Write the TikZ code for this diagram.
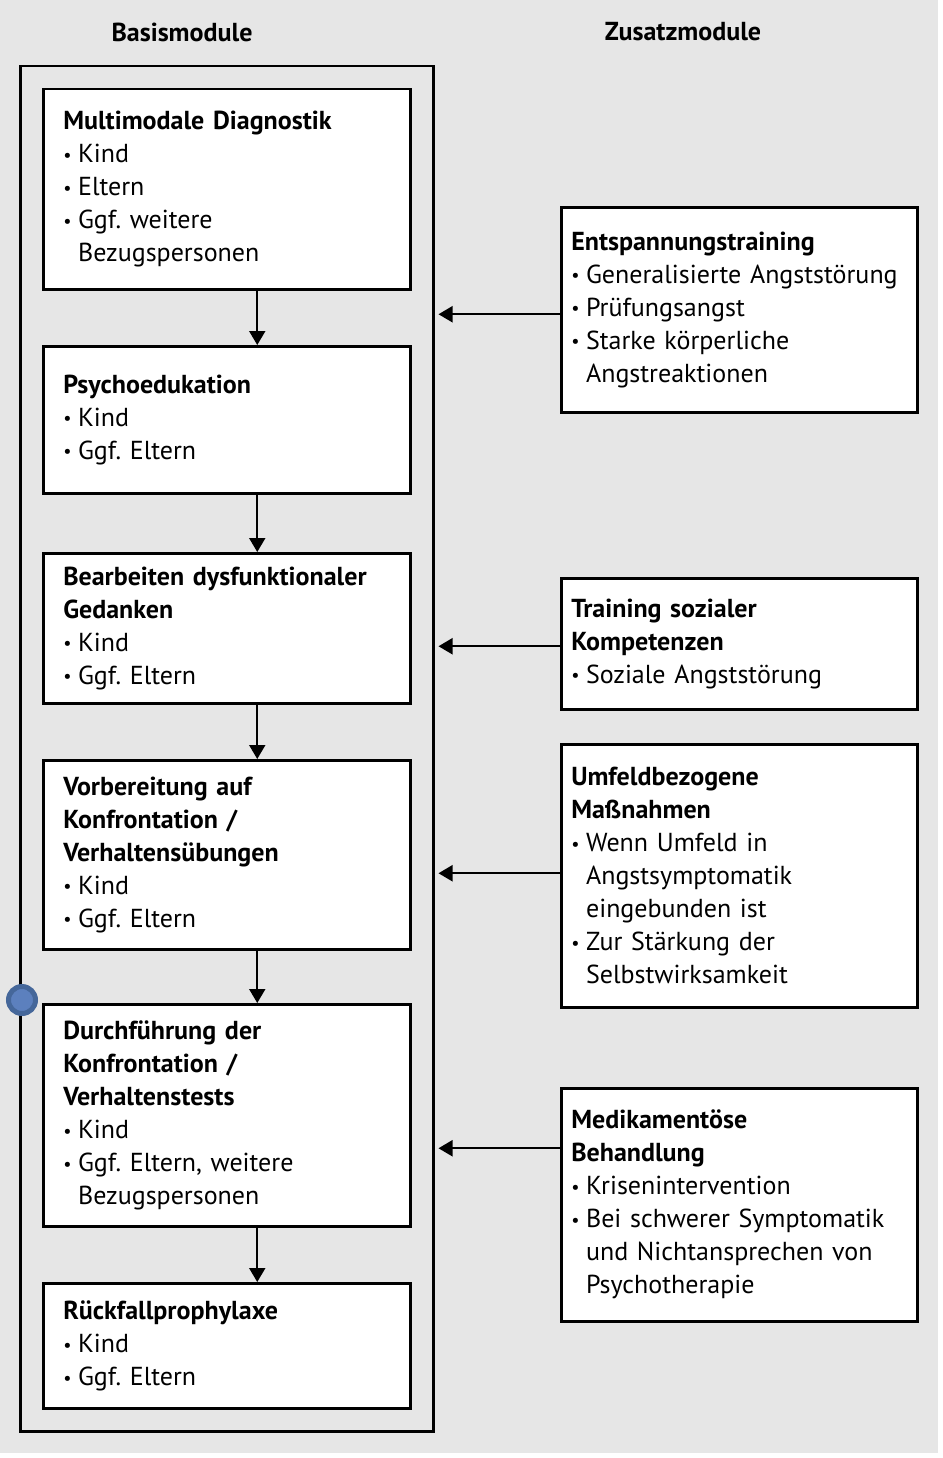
\documentclass[tikz,border=0pt]{standalone}
\usepackage{fontspec}
\setmainfont{PT Sans}
\usetikzlibrary{arrows.meta,positioning}
\definecolor{PanelGray}{RGB}{230,230,230}
\definecolor{DotBlue}{RGB}{92,128,190}
\definecolor{DotRing}{RGB}{69,103,154}
\newcommand{\ttl}[1]{\mbox{\bfseries #1}}
\newcommand{\itm}[1]{\mbox{\makebox[0.57em][l]{\raisebox{0.05em}{\scalebox{0.7}{\textbullet}}}#1}}
\newcommand{\cnt}[1]{\mbox{\hspace*{0.57em}#1}}
\frenchspacing

\begin{document}
\begin{tikzpicture}[x=1pt, y=-1pt,
    basis/.style={draw, fill=white, line width=2.5pt, anchor=north west, align=left, text width=327pt, inner xsep=20pt, minimum width=367pt, font=\fontsize{26}{33}\selectfont},
    zusatz/.style={draw, fill=white, line width=2.5pt, anchor=north west, align=left, text width=336pt, inner xsep=10pt, minimum width=356pt, font=\fontsize{26}{33}\selectfont},
    head/.style={font=\fontsize{26}{33}\selectfont\bfseries},
    arrow/.style={-{Triangle[width=16pt,length=14pt]}, line width=2pt}
  ]
    \fill[white] (0,0) rectangle (942,1458);
    \fill[PanelGray] (0,0) rectangle (938,1453);

    \node[head] (bhead) at (182,32) {Basismodule};
    \node[head] (zhead) at (683,32) {Zusatzmodule};
    \node[draw, line width=2.5pt, anchor=north west, minimum width=413pt, minimum height=1365pt, inner sep=0pt] (frame) at (19,65) {};

    \node[basis, minimum height=200pt] (diag) at (42,88) {\ttl{Multimodale Diagnostik}\\ \itm{Kind}\\ \itm{Eltern}\\ \itm{Ggf. weitere}\\ \cnt{Bezugspersonen}};
    \node[basis, minimum height=147pt] (psych) at (42,345) {\ttl{Psychoedukation}\\ \itm{Kind}\\ \itm{Ggf. Eltern}};
    \node[basis, minimum height=150pt] (gedanken) at (42,552) {\ttl{Bearbeiten dysfunktionaler}\\ \ttl{Gedanken}\\ \itm{Kind}\\ \itm{Ggf. Eltern}};
    \node[basis, minimum height=189pt] (vorb) at (42,759) {\ttl{Vorbereitung auf}\\ \ttl{Konfrontation /}\\ \ttl{Verhaltensübungen}\\ \itm{Kind}\\ \itm{Ggf. Eltern}};
    \node[basis, minimum height=222pt] (durch) at (42,1003) {\ttl{Durchführung der}\\ \ttl{Konfrontation /}\\ \ttl{Verhaltenstests}\\ \itm{Kind}\\ \itm{Ggf. Eltern, weitere}\\ \cnt{Bezugspersonen}};
    \node[basis, minimum height=125pt] (rueck) at (42,1282) {\ttl{Rückfallprophylaxe}\\ \itm{Kind}\\ \itm{Ggf. Eltern}};

    \node[zusatz, minimum height=205pt] (entsp) at (560,206) {\ttl{Entspannungstraining}\\ \itm{Generalisierte Angststörung}\\ \itm{Prüfungsangst}\\ \itm{Starke körperliche}\\ \cnt{Angstreaktionen}};
    \node[zusatz, minimum height=131pt] (sozial) at (560,577) {\ttl{Training sozialer}\\ \ttl{Kompetenzen}\\ \itm{Soziale Angststörung}};
    \node[zusatz, minimum height=263pt] (umfeld) at (560,743) {\ttl{Umfeldbezogene}\\ \ttl{Maßnahmen}\\ \itm{Wenn Umfeld in}\\ \cnt{Angstsymptomatik}\\ \cnt{eingebunden ist}\\ \itm{Zur Stärkung der}\\ \cnt{Selbstwirksamkeit}};
    \node[zusatz, minimum height=233pt] (medi) at (560,1087) {\ttl{Medikamentöse}\\ \ttl{Behandlung}\\ \itm{Krisenintervention}\\ \itm{Bei schwerer Symptomatik}\\ \cnt{und Nichtansprechen von}\\ \cnt{Psychotherapie}};

    \node[circle, fill=DotBlue, draw=DotRing, line width=5pt, minimum size=27pt, inner sep=0pt] (dot) at (22,1000) {};

    \draw[arrow] ([xshift=30.5pt]diag.south) -- ([xshift=30.5pt]psych.north);
    \draw[arrow] ([xshift=30.5pt]psych.south) -- ([xshift=30.5pt]gedanken.north);
    \draw[arrow] ([xshift=30.5pt]gedanken.south) -- ([xshift=30.5pt]vorb.north);
    \draw[arrow] ([xshift=30.5pt]vorb.south) -- ([xshift=30.5pt]durch.north);
    \draw[arrow] ([xshift=30.5pt]durch.south) -- ([xshift=30.5pt]rueck.north);

    \draw[arrow] ([yshift=-4.5pt]entsp.west) coordinate (e1) -- ([xshift=4pt]e1 -| frame.east);
    \draw[arrow] ([yshift=-2.5pt]sozial.west) coordinate (e2) -- ([xshift=4pt]e2 -| frame.east);
    \draw[arrow] ([yshift=2.5pt]umfeld.west) coordinate (e3) -- ([xshift=4pt]e3 -| frame.east);
    \draw[arrow] ([yshift=56.5pt]medi.west) coordinate (e4) -- ([xshift=4pt]e4 -| frame.east);
  \end{tikzpicture}
\end{document}
